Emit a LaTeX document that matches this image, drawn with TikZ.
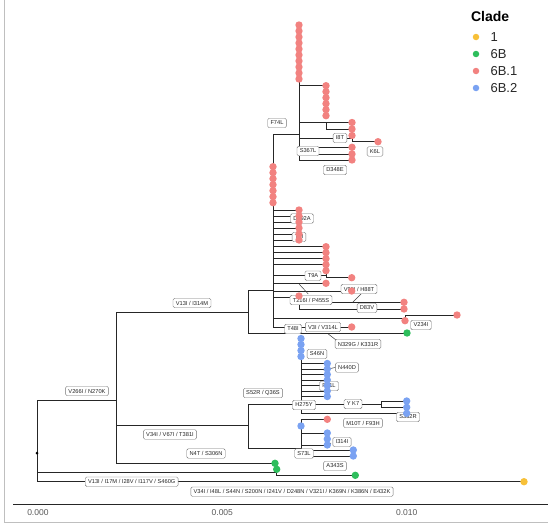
\documentclass[tikz,border=0pt]{standalone}
\usepackage{fontspec}
\setmainfont{Liberation Sans}
\begin{document}
\begin{tikzpicture}[x=1pt,y=-1pt]
\definecolor{cA}{RGB}{247,192,56}
\definecolor{cB}{RGB}{46,190,92}
\definecolor{cC}{RGB}{242,130,128}
\definecolor{cD}{RGB}{122,162,242}
\tikzset{
 br/.style={draw=black!85, line width=1pt},
 lab/.style={draw=black!55, line width=0.4pt, rounded corners=1.5pt, fill=white, font=\fontsize{5.7}{6}\selectfont, inner xsep=2.8pt, inner ysep=0pt, minimum height=9.5pt, text=black!85},
 lead/.style={draw=black!75, line width=0.5pt},
 tp/.style={circle, inner sep=0pt, minimum size=7.4pt},
 legtxt/.style={font=\fontsize{13}{14}\selectfont, anchor=west, text=black!85},
}
\useasboundingbox (0,0) rectangle (548,525);
\draw[black!25, line width=0.8pt] (4,-3) rectangle (552,522.5);
% ---------- tree nodes
\coordinate (root) at (37,453);
\coordinate (nA) at (116,400);
\coordinate (nB) at (248,312);
\coordinate (nC) at (248,425);
\coordinate (nD) at (273,290);
\coordinate (nE) at (299,134);
\coordinate (nF) at (326,122);
\coordinate (nI) at (352,138);
\coordinate (nT) at (326,275);
\coordinate (nP) at (299,297);
\coordinate (nV) at (405,318.3);
\coordinate (nG) at (301,404);
\coordinate (nY) at (381,404);
\coordinate (nH) at (301,448.3);
\coordinate (n6) at (276.7,472.3);
% ---------- branches
\draw[br] (root) |- (nA);
\draw[br] (root) |- (n6);
\draw[br] (root) |- (524,481.7) coordinate (t1);
\draw[br] (nA) |- (nB);
\draw[br] (nA) |- (nC);
\draw[br] (nA) |- (275,463.3) coordinate (g1);
\draw[br] (n6) |- (276.7,469.3);
\draw[br] (n6) |- (355.3,475.3) coordinate (g3);
\draw[br] (nB) |- (nD);
\draw[br] (nB) |- (407,333) coordinate (g2);
% 6B.1
\draw[br] (nD) |- (nE);
\draw[br] (nD) |- (273,166.7);
\draw[br] (nD) |- (273,202.7);
\foreach \y in {210,216,222,228,234,240} \draw[br] (nD) |- (299,\y);
\foreach \y in {246.7,252.7,258.7,264.7,283.3} \draw[br] (nD) |- (326,\y);
\draw[br] (nD) |- (nT);
\draw[br] (nT) |- (326,270.7);
\draw[br] (nT) |- (351.7,277.7);
\draw[br] (nD) |- (351.7,291);
\draw[br] (nD) |- (nP);
\draw[br] (nP) |- (299,296);
\draw[br] (nP) |- (404,302.3);
\draw[br] (nP) |- (404,309);
\draw[br] (nD) |- (nV);
\draw[br] (nV) |- (405,320.7);
\draw[br] (nV) |- (457,315);
\draw[br] (nD) |- (351.7,327);
\draw[br] (nE) |- (299,25);
\draw[br] (nE) |- (326,85.7) -- (326,115.7);
\draw[br] (nE) |- (nF);
\draw[br] (nF) |- (352,122.5);
\draw[br] (nF) |- (352,129);
\draw[br] (nE) |- (nI);
\draw[br] (nI) |- (352,135.5);
\draw[br] (nI) |- (378,141.7);
\foreach \y in {147.3,154,160} \draw[br] (nE) |- (351.7,\y);
% 6B.2
\draw[br] (nC) |- (nG);
\draw[br] (nC) |- (nH);
\draw[br] (nG) |- (301,338.5);
\foreach \y in {363.5,369,374.5,380,385.5,391,396.5} \draw[br] (nG) |- (327.3,\y);
\draw[br] (nG) |- (nY);
\draw[br] (nY) |- (406.7,401);
\draw[br] (nY) |- (406.7,407.3);
\draw[br] (nG) |- (406.7,413.3);
\draw[br] (nH) |- (327.3,419.3);
\draw[br] (nH) |- (327.3,433);
\draw[br] (nH) |- (327.3,445);
\draw[br] (nH) |- (353.3,450);
\draw[br] (nH) |- (353.3,456);
% ---------- leaders
\draw[lead] (361.7,293.3) -- (352.7,302.3);
\draw[lead] (299.3,284.3) -- (308.3,294);
\draw[lead] (328.3,334) -- (336,340);
\draw[lead] (323.3,370) -- (336,367.3);
\draw[lead] (328.3,446.7) -- (331,443);
% ---------- labels
\node[lab] (lF74L) at (277,123) {F74L};
\node[lab] (lI8T) at (340,138) {I8T};
\node[lab] (lK6L) at (375,151.5) {K6L};
\node[lab] (lS367L) at (308,151) {S367L};
\node[lab] (lD348E) at (335,170) {D348E};
\node[lab] (lD192A) at (302,218.5) {D192A};
\node[lab] (lT9I) at (299,237) {T9I};
\node[lab] (lT9A) at (313,275.7) {T9A};
\node[lab] (lV95I) at (359,289) {V95I / H88T};
\node[lab] (lT216I) at (311,300) {T216I / P455S};
\node[lab] (lD83V) at (367,308) {D83V};
\node[lab] (lV234I) at (421,325) {V234I};
\node[lab] (lT48I) at (293,329) {T48I};
\node[lab] (lV3I) at (323,327) {V3I / V314L};
\node[lab] (lN329G) at (358,344) {N329G / K331R};
\node[lab] (lV13I) at (192,303) {V13I / I314M};
\node[lab] (lV266I) at (87,391) {V266I / N270K};
\node[lab] (lS52R) at (263,393) {S52R / Q36S};
\node[lab] (lS46N) at (317,354) {S46N};
\node[lab] (lN440D) at (347,367.5) {N440D};
\node[lab] (lP) at (329,386) {P31L};
\node[lab] (lH275Y) at (304,405) {H275Y};
\node[lab] (lYK) at (353,404) {Y K7};
\node[lab] (lS382R) at (408,417) {S382R};
\node[lab] (lM10T) at (363,423) {M10T / F93H};
\node[lab] (lV34I) at (170,434.5) {V34I / V67I / T381I};
\node[lab] (lN4T) at (206,453.5) {N4T / S306N};
\node[lab] (lI314I) at (342,442) {I314I};
\node[lab] (lS73L) at (304,453.5) {S73L};
\node[lab] (lA343S) at (335,466) {A343S};
\node[lab] (lV13b) at (131.7,481.7) {V13I / I17M / I28V / I117V / S460G};
\node[lab] (lV34b) at (292,491.7) {V34I / I48L / S44N / S200N / I241V / D248N / V321I / K369N / K386N / E432K};
% ---------- tips
\fill[black] (root) circle (1.5pt);
\node[tp, fill=cA] (t1d) at (t1) {};
\foreach \p in {(275,463.3),(276.7,469.3),(355.3,475.3),(407,333)} \node[tp, fill=cB] at \p {};
\foreach \y in {25,31,...,79} \node[tp, fill=cC] at (299,\y) {};
\foreach \y in {85.7,91.7,...,115.7} \node[tp, fill=cC] at (326,\y) {};
\foreach \y in {122.5,129,135.5,147.3,154,160} \node[tp, fill=cC] at (352,\y) {};
\node[tp, fill=cC] at (378,141.7) {};
\foreach \y in {166.7,172.7,...,202.7} \node[tp, fill=cC] at (273,\y) {};
\foreach \y in {210,216,222,228,234,240,296} \node[tp, fill=cC] at (299,\y) {};
\foreach \y in {246.7,252.7,258.7,264.7,270.7,283.3} \node[tp, fill=cC] at (326,\y) {};
\foreach \y in {277.7,291,327} \node[tp, fill=cC] at (351.7,\y) {};
\foreach \p in {(404,302.3),(404,309),(405,320.7),(457,315),(327.3,419.3)} \node[tp, fill=cC] at \p {};
\foreach \y in {338.5,344.5,350.5,356.5,426} \node[tp, fill=cD] at (301,\y) {};
\foreach \y in {363.5,369,374.5,380,385.5,391,396.5,433,439,445} \node[tp, fill=cD] at (327.3,\y) {};
\foreach \y in {401,407.3,413.3} \node[tp, fill=cD] at (406.7,\y) {};
\foreach \y in {450,456} \node[tp, fill=cD] at (353.3,\y) {};
% ---------- axis
\draw[black!85, line width=0.8pt] (13,504.3) -- (548,504.3);
\foreach \x/\t in {37.9/0.000,222.3/0.005,406.7/0.010}
  \node[font=\fontsize{8.5}{9}\selectfont, text=black!65] at (\x,512.5) {\t};
% ---------- legend
\node[font=\bfseries\fontsize{14}{15}\selectfont, anchor=west] (legT) at (467.5,16) {Clade};
\node[tp, fill=cA, minimum size=6.5pt] (lgA) at (476,37) {};
\node[tp, fill=cB, minimum size=6.5pt] (lgB) at (476,54) {};
\node[tp, fill=cC, minimum size=6.5pt] (lgC) at (476,71) {};
\node[tp, fill=cD, minimum size=6.5pt] (lgD) at (476,88) {};
\node[legtxt] at (487,37.5) {1};
\node[legtxt] at (487,54.5) {6B};
\node[legtxt] at (487,71.5) {6B.1};
\node[legtxt] at (487,88.5) {6B.2};
\end{tikzpicture}
\end{document}
